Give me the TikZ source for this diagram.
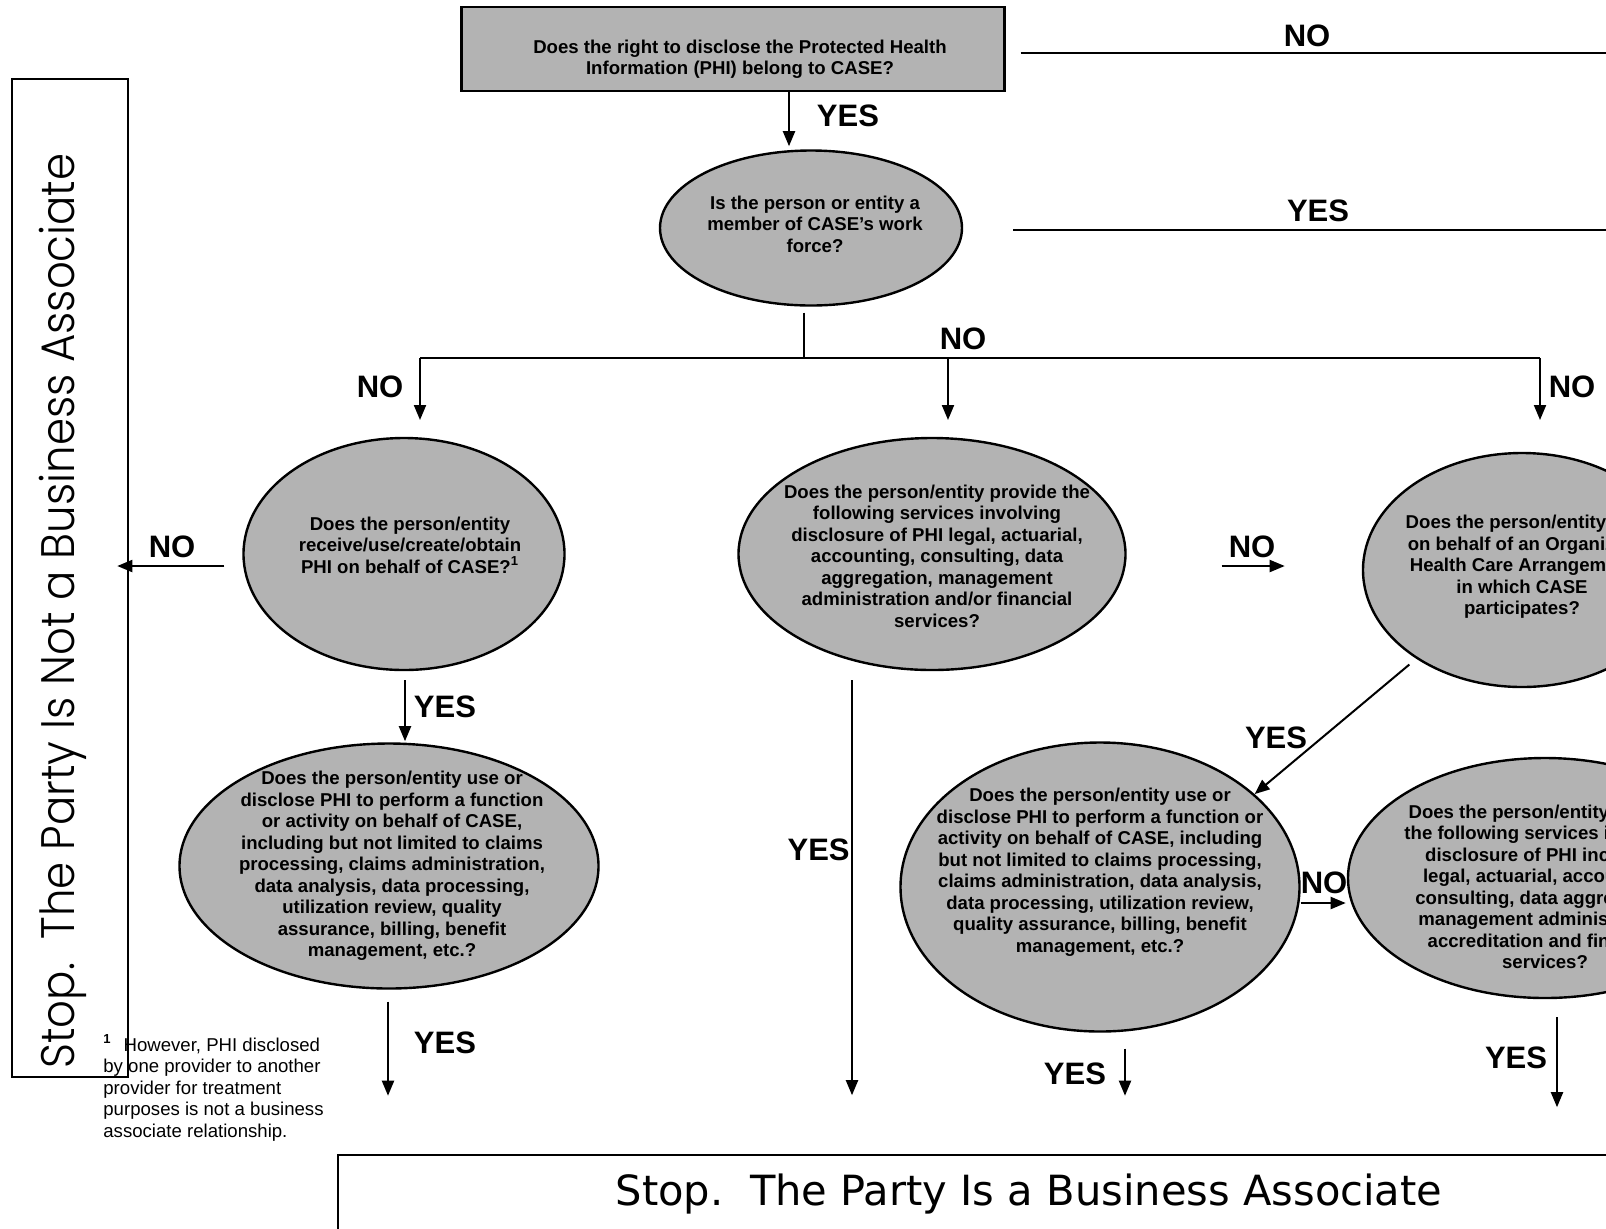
\documentclass[tikz,border=0pt]{standalone}
\usepackage{fontspec}
\setmainfont{Liberation Sans}
\newfontfamily\stopfont{DejaVu Sans}
\newfontfamily\sidefont{Poppins Light}[FakeStretch=0.925]
\usetikzlibrary{arrows.meta,shapes.geometric}
\definecolor{qgray}{RGB}{179,179,179}
\tikzset{
  qbox/.style={draw, line width=1.2pt, fill=qgray, inner sep=0pt},
  qell/.style={qbox, ellipse},
  qtxt/.style={align=center, inner sep=0pt, font=\bfseries\fontsize{9.3}{10.75}\selectfont},
  ans/.style={inner sep=0pt, font=\bfseries\fontsize{15.5}{18}\selectfont},
  conn/.style={line width=1pt},
  arr/.style={conn, -{Triangle[length=7.5pt,width=6pt]}},
  stopbox/.style={draw, line width=0.9pt, inner sep=0pt},
  fnote/.style={align=left, inner sep=0pt, font=\fontsize{9.3}{10.75}\selectfont},
}

\begin{document}
\begin{tikzpicture}[x=0.5pt, y=-0.5pt]
  \useasboundingbox (0,0) rectangle (1606,1228);
  \clip (0,0) rectangle (1606,1228);

  % stop boxes
  \node[stopbox, minimum width=58pt, minimum height=499pt] (stopL) at (70,578) {};
  \node[inner sep=0pt, rotate=90, font=\sidefont\fontsize{23.5}{26}\selectfont] (stopLt) at (63,611) {Stop.\ \ The Party Is Not a Business Associate};
  \node[stopbox, minimum width=691pt, minimum height=39pt, font=\stopfont\fontsize{20.8}{24}\selectfont] (stopB) at (1029,1194) {Stop.\ \ The Party Is a Business Associate};

  % questions
  \node[qbox, minimum width=271.5pt, minimum height=42pt] (q1) at (733,49) {};
  \node[qtxt] (q1t) at (740,59) {Does the right to disclose the Protected Health\\Information (PHI) belong to CASE?};

  \node[qell, minimum width=151pt, minimum height=77.5pt] (q2) at (811,228) {};
  \node[qtxt] (q2t) at (815,224) {Is the person or entity a\\member of CASE’s work\\force?};

  \node[qell, minimum width=160.5pt, minimum height=116pt] (q3) at (404,554) {};
  \node[qtxt] (q3t) at (410,545) {Does the person/entity\\receive/use/create/obtain\\PHI on behalf of CASE?\textsuperscript{1}};

  \node[qell, minimum width=209.5pt, minimum height=122.5pt] (q4) at (389,866) {};
  \node[qtxt] (q4t) at (392,866) {Does the person/entity use or\\disclose PHI to perform a function\\or activity on behalf of CASE,\\including but not limited to claims\\processing, claims administration,\\data analysis, data processing,\\utilization review, quality\\assurance, billing, benefit\\management, etc.?};

  \node[qell, minimum width=193.5pt, minimum height=116pt] (q5) at (932,554) {};
  \node[qtxt] (q5t) at (937,556) {Does the person/entity provide the\\following services involving\\disclosure of PHI legal, actuarial,\\accounting, consulting, data\\aggregation, management\\administration and/or financial\\services?};

  \node[qell, minimum width=159pt, minimum height=117pt] (q6) at (1522,570) {};
  \node[qtxt] (q6t) at (1522,567) {Does the person/entity act\\on behalf of an Organized\\Health Care Arrangement\\in which CASE\\participates?};

  \node[qell, minimum width=199.5pt, minimum height=144.5pt] (q7) at (1100,887) {};
  \node[qtxt] (q7t) at (1100,872) {Does the person/entity use or\\disclose PHI to perform a function or\\activity on behalf of CASE, including\\but not limited to claims processing,\\claims administration, data analysis,\\data processing, utilization review,\\quality assurance, billing, benefit\\management, etc.?};

  \node[qell, minimum width=197pt, minimum height=120pt] (q8) at (1545,878) {};
  \node[qtxt] (q8t) at (1545,887) {Does the person/entity provide\\the following services involving\\disclosure of PHI including\\legal, actuarial, accounting,\\consulting, data aggregation,\\management administration,\\accreditation and financial\\services?};

  \node[fnote, anchor=north west] (fn) at (103,1034) {\textsuperscript{\textbf{1}}\hspace{6pt}However, PHI disclosed\\by one provider to another\\provider for treatment\\purposes is not a business\\associate relationship.};

  % free ends and the branch
  \coordinate (edgeNo) at (1620,53);
  \coordinate (edgeYes) at (1620,230);
  \coordinate (split) at (804,358);
  \coordinate (brL) at (420,358);
  \coordinate (brM) at (948,358);
  \coordinate (brR) at (1540,358);

  % connectors
  \draw[arr] ([xshift=28pt]q1.south) -- ++(0,54);
  \draw[conn] (q1.east) ++(15,4) -- (edgeNo);
  \draw[conn] (q2.east) ++(50,2) -- (edgeYes);
  \draw[conn] (q2.south) ++(-7,6) -- (split);
  \draw[conn] (brL) -- (brR);
  \draw[arr] (brL) -- ++(0,62);
  \draw[arr] (brM) -- ++(0,62);
  \draw[arr] (brR) -- ++(0,62);
  \draw[arr] (q3.west) ++(-18,12) -- ++(-107,0);
  \draw[arr] (q3.south) ++(1,9) -- ++(0,61);
  \draw[arr] (q4.south) ++(-1,12) -- ++(0,94);
  \draw[arr] (q5.south) ++(-80,9) -- ++(0,415);
  \draw[arr] (q5.east) ++(95,12) -- ++(63,0);
  \draw[arr, shorten <=4.5pt] (q6.-140) -- (q7.31);
  \draw[arr] (q7.east) ++(0,16) -- ++(45,0);
  \draw[arr] (q7.south) ++(25,16) -- ++(0,47);
  \draw[arr] (q8.south) ++(12,18) -- ++(0,90);

  % answers
  \node[ans] (a1) at (848,116) {YES};
  \node[ans] (a2) at (1307,36) {NO};
  \node[ans] (a3) at (1318,211) {YES};
  \node[ans] (a4) at (963,339) {NO};
  \node[ans] (a5) at (380,387) {NO};
  \node[ans] (a6) at (1572,387) {NO};
  \node[ans] (a7) at (172,547) {NO};
  \node[ans] (a8) at (445,707) {YES};
  \node[ans] (a9) at (445,1043) {YES};
  \node[ans, anchor=east] (a10) at (850,850) {YES};
  \node[ans] (a11) at (1252,547) {NO};
  \node[ans] (a12) at (1276,738) {YES};
  \node[ans] (a13) at (1324,883) {NO};
  \node[ans] (a14) at (1075,1074) {YES};
  \node[ans] (a15) at (1516,1058) {YES};
\end{tikzpicture}
\end{document}
